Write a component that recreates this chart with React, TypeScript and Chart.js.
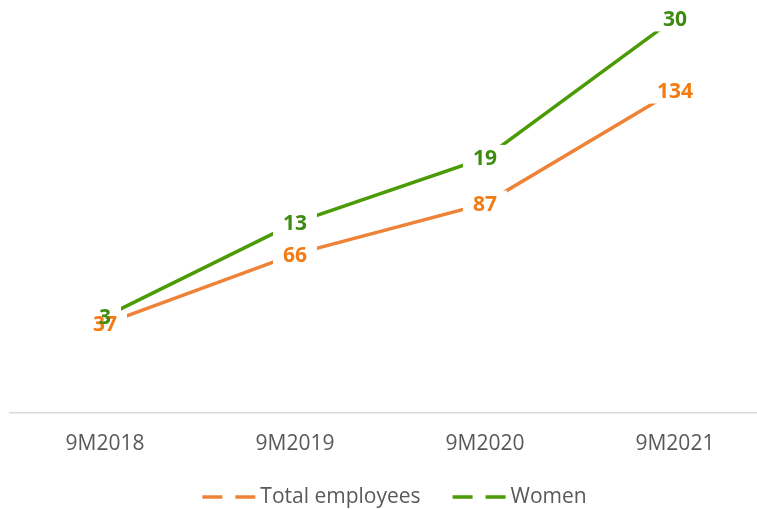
import { useEffect, useRef } from "react";
import { Chart, registerables } from "chart.js";

Chart.register(...registerables);

const categories = ["9M2018", "9M2019", "9M2020", "9M2021"];
const totalEmployees = [37, 66, 87, 134];
const women = [3, 13, 19, 30];
const seriesNames = ["Total employees", "Women"];
const seriesValues = [totalEmployees, women];
const lineColors = ["#EE8236", "#4B9B05"];
const labelColors = ["#F47A12", "#3D8B0F"];

const FONT = "'Open Sans', 'Noto Sans', sans-serif";

const valueLabels = {
  id: "valueLabels",
  afterDatasetsDraw(chart: any) {
    const ctx = chart.ctx;
    ctx.save();
    ctx.font = `bold 21px ${FONT}`;
    ctx.textAlign = "center";
    ctx.textBaseline = "alphabetic";
    const items: any[] = [];
    chart.data.datasets.forEach((_ds: any, di: number) => {
      const meta = chart.getDatasetMeta(di);
      meta.data.forEach((pt: any, i: number) => {
        items.push({ x: pt.x, y: pt.y, text: String(seriesValues[di][i]), color: labelColors[di] });
      });
    });
    ctx.fillStyle = "#ffffff";
    items.forEach((it) => {
      const w = ctx.measureText(it.text).width + 20;
      ctx.fillRect(it.x - w / 2, it.y - 13, w, 26);
    });
    items.forEach((it) => {
      ctx.fillStyle = it.color;
      ctx.fillText(it.text, it.x, it.y + 7.5);
    });
    ctx.restore();
  },
};

const bottomLegend = {
  id: "bottomLegend",
  afterDraw(chart: any) {
    const ctx = chart.ctx;
    ctx.save();
    ctx.font = `21px ${FONT}`;
    const sample = 53;
    const gapText = 5;
    const gapItem = 32;
    const widths = seriesNames.map((n) => ctx.measureText(n).width);
    const total =
      widths.reduce((a, b) => a + b, 0) +
      seriesNames.length * (sample + gapText) +
      gapItem * (seriesNames.length - 1);
    const ca = chart.chartArea;
    let x = (ca.left + ca.right) / 2 + 11 - total / 2;
    const y = chart.height - 12;
    seriesNames.forEach((name, i) => {
      ctx.strokeStyle = lineColors[i];
      ctx.lineWidth = 3.5;
      ctx.setLineDash([20, 13]);
      ctx.beginPath();
      ctx.moveTo(x, y);
      ctx.lineTo(x + sample, y);
      ctx.stroke();
      ctx.setLineDash([]);
      ctx.fillStyle = "#595959";
      ctx.textAlign = "left";
      ctx.textBaseline = "middle";
      ctx.fillText(name, x + sample + gapText, y);
      x += sample + gapText + widths[i] + gapItem;
    });
    ctx.restore();
  },
};

export default function App() {
  const ref = useRef<HTMLCanvasElement | null>(null);

  useEffect(() => {
    document.body.style.margin = "0";
    document.body.style.overflow = "hidden";
    const canvas = ref.current;
    if (!canvas) return;
    const chart = new Chart(canvas, {
      type: "line",
      data: {
        datasets: seriesNames.map((name, di) => ({
          label: name,
          data: seriesValues[di].map((v, i) => ({ x: i, y: v })),
          borderColor: lineColors[di],
          backgroundColor: lineColors[di],
          borderWidth: 3.5,
          pointRadius: 0,
          tension: 0,
          fill: false,
        })),
      },
      options: {
        responsive: false,
        animation: false,
        layout: { padding: { left: 10, right: 0, top: 4, bottom: 33 } },
        plugins: {
          legend: { display: false },
          tooltip: { enabled: false },
        },
        scales: {
          x: {
            type: "linear",
            min: -0.5,
            max: 3.432,
            grid: { display: false, drawTicks: false },
            border: { display: true, color: "#D9D9D9", width: 1.5 },
            afterBuildTicks: (axis: any) => {
              axis.ticks = categories.map((_c, i) => ({ value: i }));
            },
            ticks: {
              padding: 19,
              color: "#595959",
              font: { family: FONT, size: 21 },
              autoSkip: false,
              maxRotation: 0,
              callback: (v: any) => categories[Number(v)] ?? "",
            },
          },
          y: {
            display: false,
            stacked: true,
            min: 0,
            max: 170,
          },
        },
      },
      plugins: [valueLabels, bottomLegend],
    } as any);
    return () => chart.destroy();
  }, []);

  return <canvas ref={ref} width={757} height={509} style={{ display: "block" }} />;
}
